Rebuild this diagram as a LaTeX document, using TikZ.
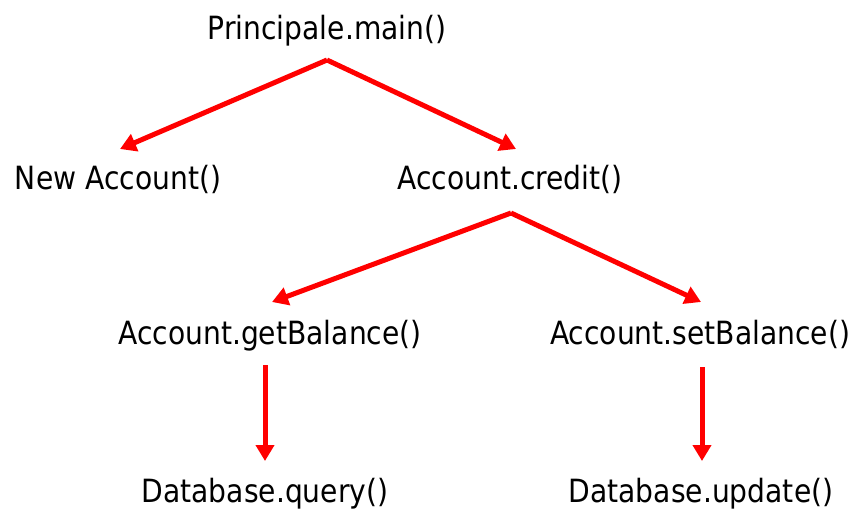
\documentclass[tikz,border=0pt]{standalone}
\usepackage{fontspec}
\setmainfont{DejaVu Sans}[FakeStretch=0.88]
\usetikzlibrary{arrows.meta}
\begin{document}
\begin{tikzpicture}[x=1pt,y=-1pt,
  call/.style={anchor=base,inner sep=0pt,font=\fontsize{32}{38}\selectfont},
  arr/.style={draw=red,line width=5pt,-{Triangle[length=16pt,width=18pt]}}]
\useasboundingbox (0,0) rectangle (854,514);
% call tree labels
\node[call] (main)   at (327,39)  {Principale.main()};
\node[call] (new)    at (118,189) {New Account()};
\node[call] (credit) at (510,189) {Account.credit()};
\node[call] (getb)   at (270,344) {Account.getBalance()};
\node[call] (setb)   at (700,344) {Account.setBalance()};
\node[call] (query)  at (265,502) {Database.query()};
\node[call] (update) at (701,502) {Database.update()};
% connector end points
\coordinate (mainout)   at (327,60);
\coordinate (newin)     at (120,149);
\coordinate (creditin)  at (516,149);
\coordinate (creditout) at (511,213);
\coordinate (getbin)    at (272,302);
\coordinate (setbin)    at (701,302);
\coordinate (getbout)   at (265,365);
\coordinate (queryin)   at (265,461);
\coordinate (setbout)   at (702,367);
\coordinate (updatein)  at (702,461);
% calls
\draw[arr] (mainout) -- (newin);
\draw[arr] (mainout) -- (creditin);
\draw[arr] (creditout) -- (getbin);
\draw[arr] (creditout) -- (setbin);
\draw[arr] (getbout) -- (queryin);
\draw[arr] (setbout) -- (updatein);
\end{tikzpicture}
\end{document}
